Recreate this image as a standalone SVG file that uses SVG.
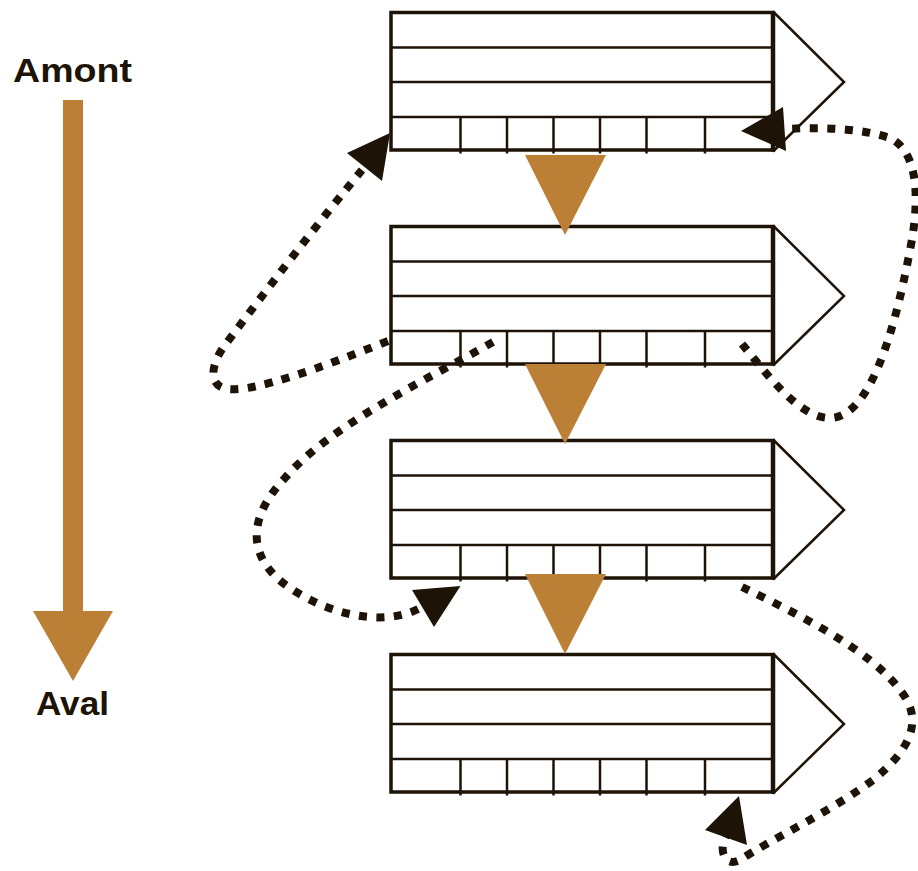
<svg xmlns="http://www.w3.org/2000/svg" xmlns:xlink="http://www.w3.org/1999/xlink" width="918" height="871" viewBox="0 0 918 871">
<style>
.frame{fill:#fff;stroke:#1e1307;stroke-width:3.5}
.ln{stroke:#1e1307;stroke-width:2.5;fill:none}
.tip{stroke:#1e1307;stroke-width:2.5;fill:none}
.flow{fill:#bb8035}
.dot{fill:none;stroke:#1e1307;stroke-width:8;stroke-dasharray:8 9.5}
.head{fill:#1e1307}
.lbl{font-family:"Gill Sans","Liberation Sans",Arial,sans-serif;font-weight:bold;font-size:34px;fill:#1e1307}
</style>
<defs>
<g id="block">
<rect class="frame" x="0" y="0" width="382" height="137.5"/>
<line class="ln" x1="0" y1="35" x2="382" y2="35"/>
<line class="ln" x1="0" y1="69.5" x2="382" y2="69.5"/>
<line class="ln" x1="0" y1="104.5" x2="382" y2="104.5"/>
<line class="ln" x1="69.5" y1="104.5" x2="69.5" y2="141"/>
<line class="ln" x1="116" y1="104.5" x2="116" y2="141"/>
<line class="ln" x1="162.5" y1="104.5" x2="162.5" y2="141"/>
<line class="ln" x1="209" y1="104.5" x2="209" y2="141"/>
<line class="ln" x1="255.5" y1="104.5" x2="255.5" y2="141"/>
<line class="ln" x1="314" y1="104.5" x2="314" y2="141"/>
<line x1="382" y1="-1" x2="382" y2="139" stroke="#1e1307" stroke-width="4.5"/>
<polyline class="tip" points="382,-1 453,69.5 382,139"/>
</g>
</defs>

<g id="axis">
<text class="lbl" x="13" y="82" textLength="119" lengthAdjust="spacingAndGlyphs">Amont</text>
<rect class="flow" x="63" y="100" width="20" height="515"/>
<polygon class="flow" points="33,611 113,611 73,681"/>
<text class="lbl" x="36" y="715" textLength="73" lengthAdjust="spacingAndGlyphs">Aval</text>
</g>

<g id="block1"><use xlink:href="#block" x="391" y="12.5"/></g>
<g id="block2"><use xlink:href="#block" x="391" y="226.5"/></g>
<g id="block3"><use xlink:href="#block" x="391" y="440.5"/></g>
<g id="block4"><use xlink:href="#block" x="391" y="654.5"/></g>

<g id="flow-arrows">
<polygon class="flow" points="525,155 606,155 565,235"/>
<polygon class="flow" points="525,364 606,364 565,444"/>
<polygon class="flow" points="525,574 606,574 565,654"/>
</g>

<g id="connectors">
<path class="dot" d="M388,341 C320,368 255,392 228,389 C208,387 210,365 225,345 C240,325 300,245 362,170"/>
<polygon class="head" points="390,133 347,153 382,181"/>
<path class="dot" d="M742,344 C770,378 800,418 830,418 C870,418 895,330 910,250 C922,190 915,150 890,138 C860,128 820,127 785,129"/>
<polygon class="head" points="741,131 783,107 786,151"/>
<path class="dot" d="M493,342 C430,378 330,425 285,478 C245,520 248,560 290,588 C330,615 385,628 422,607"/>
<polygon class="head" points="460.5,586 412,590 434,627"/>
<path class="dot" d="M742,587 C800,615 870,650 900,690 C925,720 910,750 873,780 C830,812 770,840 740,860 C725,868 718,850 726,836"/>
<polygon class="head" points="739,796 705,830 747,845"/>
</g>
</svg>
